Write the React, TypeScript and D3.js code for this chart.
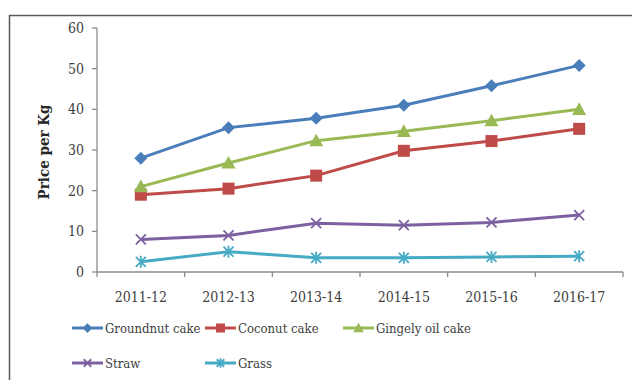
import React from "react";
import * as d3 from "d3";

const categories = ["2011-12", "2012-13", "2013-14", "2014-15", "2015-16", "2016-17"];
const groundnut = [28, 35.5, 37.8, 41, 45.8, 50.8];
const coconut = [19, 20.5, 23.7, 29.8, 32.2, 35.2];
const gingely = [21, 26.8, 32.3, 34.6, 37.2, 40];
const straw = [8, 9, 12, 11.5, 12.2, 14];
const grass = [2.5, 5, 3.5, 3.5, 3.7, 3.9];
const yTicks = [0, 10, 20, 30, 40, 50, 60];

const seriesList = [
  { name: "Groundnut cake", values: groundnut, color: "#4a7ebb", marker: "diamond" },
  { name: "Coconut cake", values: coconut, color: "#be4b48", marker: "square" },
  { name: "Gingely oil cake", values: gingely, color: "#98b954", marker: "triangle" },
  { name: "Straw", values: straw, color: "#7d60a0", marker: "x" },
  { name: "Grass", values: grass, color: "#46aac5", marker: "star" },
];

const FONT = "'DejaVu Serif Condensed', 'DejaVu Serif', serif";

function Marker({ type, x, y, color, k = 1 }: { type: string; x: number; y: number; color: string; k?: number }) {
  if (type === "diamond") {
    const s = 6.5 * k;
    return <path d={`M${x},${y - s}L${x + s},${y}L${x},${y + s}L${x - s},${y}Z`} fill={color} />;
  }
  if (type === "square") {
    const s = 6 * k;
    return <rect x={x - s} y={y - s} width={2 * s} height={2 * s} fill={color} />;
  }
  if (type === "triangle") {
    const s = 7 * k;
    return <path d={`M${x},${y - s}L${x + s},${y + s * 0.8}L${x - s},${y + s * 0.8}Z`} fill={color} />;
  }
  if (type === "x") {
    const s = 5 * k;
    return (
      <path d={`M${x - s},${y - s}L${x + s},${y + s}M${x - s},${y + s}L${x + s},${y - s}`} stroke={color} strokeWidth={1.8} />
    );
  }
  const s = 5 * k;
  return (
    <path
      d={`M${x - s},${y - s}L${x + s},${y + s}M${x - s},${y + s}L${x + s},${y - s}M${x},${y - s - 1}L${x},${y + s + 1}`}
      stroke={color}
      strokeWidth={1.8}
    />
  );
}

export default function App() {
  const W = 632, H = 380;
  const x0 = 97, x1 = 623;
  const y = d3.scaleLinear().domain([0, 60]).range([272, 28]);
  const xb = d3.scaleBand().domain(categories).range([x0, x1]);
  const cx = (c: string) => (xb(c) as number) + xb.bandwidth() / 2;
  const line = d3
    .line<number>()
    .x((_, i) => cx(categories[i]))
    .y((v) => y(v));

  const legendPos = [
    { lx: 72, ly: 328 },
    { lx: 205, ly: 328 },
    { lx: 343, ly: 328 },
    { lx: 72, ly: 363 },
    { lx: 205, ly: 363 },
  ];

  const boundaries = categories.map((c) => xb(c) as number).concat([x1]);

  return (
    <svg
      width={W}
      height={H}
      style={{ position: "absolute", left: 0, top: 0, background: "#fff", fontFamily: FONT, fontStretch: "condensed" }}
    >
      <rect x={0} y={0} width={W} height={H} fill="#fff" />
      <path d={`M9.5,${H}L9.5,15.5L${W},15.5`} fill="none" stroke="#595959" strokeWidth={1.5} />
      <line x1={x0} x2={x0} y1={y(60)} y2={y(0)} stroke="#8c8c8c" strokeWidth={1.3} />
      <line x1={x0} x2={x1} y1={y(0)} y2={y(0)} stroke="#8c8c8c" strokeWidth={1.3} />
      {yTicks.map((t) => (
        <g key={t}>
          <line x1={x0 - 5} x2={x0} y1={y(t)} y2={y(t)} stroke="#8c8c8c" strokeWidth={1.3} />
          <text x={x0 - 13} y={y(t)} dy="0.35em" textAnchor="end" fontSize={14} fill="#404040">
            {t}
          </text>
        </g>
      ))}
      {boundaries.map((b, i) => (
        <line key={i} x1={b} x2={b} y1={y(0)} y2={y(0) + 5} stroke="#8c8c8c" strokeWidth={1.3} />
      ))}
      {categories.map((c) => (
        <text key={c} x={cx(c)} y={302} textAnchor="middle" fontSize={14} fill="#404040">
          {c}
        </text>
      ))}
      <text transform={`translate(49,152) rotate(-90)`} textAnchor="middle" fontSize={15} fontWeight="bold" fill="#262626">
        Price per Kg
      </text>
      {seriesList.map((s) => (
        <g key={s.name}>
          <path d={line(s.values) as string} fill="none" stroke={s.color} strokeWidth={3} />
          {s.values.map((v, i) => (
            <Marker key={i} type={s.marker} x={cx(categories[i])} y={y(v)} color={s.color} />
          ))}
        </g>
      ))}
      {seriesList.map((s, i) => {
        const p = legendPos[i];
        return (
          <g key={s.name}>
            <line x1={p.lx} x2={p.lx + 31} y1={p.ly} y2={p.ly} stroke={s.color} strokeWidth={3} />
            <Marker type={s.marker} x={p.lx + 15.5} y={p.ly} color={s.color} k={0.75} />
            <text x={p.lx + 33} y={p.ly} dy="0.35em" fontSize={13} fill="#404040">
              {s.name}
            </text>
          </g>
        );
      })}
    </svg>
  );
}
